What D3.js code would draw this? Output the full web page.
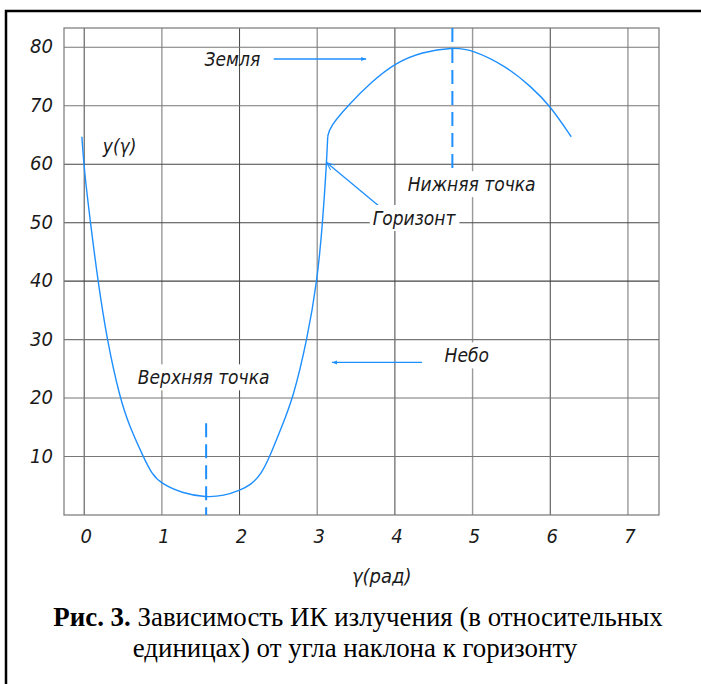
<!DOCTYPE html>
<html>
<head>
<meta charset="utf-8">
<script src="https://cdn.jsdelivr.net/npm/d3@7"></script>
<style>
  body { margin: 0; background: #fff; }
  .gost { font-family: "DejaVu Sans Condensed", "Liberation Sans Narrow", "DejaVu Sans", sans-serif; font-style: italic; fill: #1a1a1a; }
  .caption { font-family: "Liberation Serif", "Times New Roman", serif; fill: #000; }
</style>
</head>
<body>
<div class="chart"></div>
<script>
// x ticks (gamma, rad) and y ticks (relative units)
var xTicks = [0, 1, 2, 3, 4, 5, 6, 7];
var yTicks = [10, 20, 30, 40, 50, 60, 70, 80];

// sky part of the curve, gamma from 0 to pi
var skyGamma = [-0.03, 0, 0.08, 0.177, 0.293, 0.459, 0.588, 0.76, 0.87, 1.0, 1.27, 1.57, 1.8, 2.0, 2.15, 2.28, 2.39, 2.54, 2.69, 2.87, 3.0, 3.07, 3.12, 3.135];
var skyValue = [64.7, 59, 50, 40, 30, 20, 15, 10, 7, 5.3, 3.7, 3.0, 3.3, 4.2, 5.2, 7.0, 10, 15, 20, 30, 40, 50, 60.2, 64.7];

// earth part of the curve, gamma from pi to 2pi
var earthGamma = [3.135, 3.16, 3.42, 3.7, 4.0, 4.35, 4.74, 5.0, 5.44, 5.75, 6.0, 6.27];
var earthValue = [64.7, 66.4, 70.4, 74.1, 77.3, 79.2, 80, 79.6, 76.7, 73.3, 70, 64.7];

// annotation texts
var labelTexts = ["y(γ)", "Земля", "Нижняя точка", "Горизонт", "Небо", "Верхняя точка"];
var axisTitle = "γ(рад)";
var captionBold = "Рис. 3.";
var captionLine1 = " Зависимость ИК излучения (в относительных";
var captionLine2 = "единицах) от угла наклона к горизонту";

var margin = { top: 28, right: 42, bottom: 169, left: 64 },
	width = 701 - margin.left - margin.right,
	height = 684 - margin.top - margin.bottom;

var svg = d3.select(".chart").append("svg")
	.attr("width", 701)
	.attr("height", 684);

// outer frame (only top and left edges are visible)
svg.append("rect")
	.attr("x", 6).attr("y", 11)
	.attr("width", 720).attr("height", 700)
	.attr("fill", "none")
	.attr("stroke", "#000")
	.attr("stroke-width", 2.5);

var g = svg.append("g")
	.attr("transform", "translate(" + margin.left + "," + margin.top + ")");

var xScale = d3.scaleLinear().domain([-0.26, 7.4]).range([0, width]);
var yScale = d3.scaleLinear().domain([0, 83.3]).range([height, 0]);

var blue = "#1e8fff";

// grid
g.selectAll(".vgrid")
	.data(xTicks)
	.enter().append("line")
	.attr("class", "vgrid")
	.attr("x1", function (d) { return xScale(d); })
	.attr("x2", function (d) { return xScale(d); })
	.attr("y1", 0).attr("y2", height)
	.attr("stroke", function (d) { return d % 2 ? "#999" : "#444"; })
	.attr("stroke-width", function (d) { return d % 2 ? 1.4 : 1; });

g.selectAll(".hgrid")
	.data(yTicks)
	.enter().append("line")
	.attr("class", "hgrid")
	.attr("x1", 0).attr("x2", width)
	.attr("y1", function (d) { return yScale(d); })
	.attr("y2", function (d) { return yScale(d); })
	.attr("stroke", function (d) { return (d >= 40 && d <= 60) ? "#444" : "#777"; })
	.attr("stroke-width", 1.1);

g.append("rect")
	.attr("width", width).attr("height", height)
	.attr("fill", "none")
	.attr("stroke", "#777")
	.attr("stroke-width", 1.2);

// tick labels
g.selectAll(".ylab")
	.data(yTicks)
	.enter().append("text")
	.attr("class", "gost")
	.attr("x", -11)
	.attr("y", function (d) { return yScale(d) + 6; })
	.attr("text-anchor", "end")
	.style("font-size", "20px")
	.text(function (d) { return d; });

g.selectAll(".xlab")
	.data(xTicks)
	.enter().append("text")
	.attr("class", "gost")
	.attr("x", function (d) { return xScale(d) + 2; })
	.attr("y", height + 28)
	.attr("text-anchor", "middle")
	.style("font-size", "20px")
	.text(function (d) { return d; });

g.append("text")
	.attr("class", "gost")
	.attr("x", xScale(3.83))
	.attr("y", height + 68)
	.attr("text-anchor", "middle")
	.style("font-size", "20px")
	.text(axisTitle);

// arrow markers
var defs = svg.append("defs");
defs.append("marker")
	.attr("id", "arrowFill")
	.attr("viewBox", "0 -5 10 10")
	.attr("refX", 10).attr("refY", 0)
	.attr("markerWidth", 9).attr("markerHeight", 5)
	.attr("markerUnits", "userSpaceOnUse")
	.attr("orient", "auto-start-reverse")
	.append("path")
	.attr("d", "M0,-4L10,0L0,4Z")
	.attr("fill", blue);
defs.append("marker")
	.attr("id", "arrowOpen")
	.attr("viewBox", "0 -5 10 10")
	.attr("refX", 10).attr("refY", 0)
	.attr("markerWidth", 10).attr("markerHeight", 8)
	.attr("markerUnits", "userSpaceOnUse")
	.attr("orient", "auto")
	.append("path")
	.attr("d", "M0,-4L10,0L0,4")
	.attr("fill", "none")
	.attr("stroke", blue)
	.attr("stroke-width", 1.2);

// dashed markers of upper / lower point
var dashes = [[1.57, 15.7, 0], [4.74, 83.3, 59]];
g.selectAll(".dash")
	.data(dashes)
	.enter().append("line")
	.attr("x1", function (d) { return xScale(d[0]); })
	.attr("x2", function (d) { return xScale(d[0]); })
	.attr("y1", function (d) { return yScale(d[1]); })
	.attr("y2", function (d) { return yScale(d[2]); })
	.attr("stroke", blue)
	.attr("stroke-width", 2)
	.attr("stroke-dasharray", "14,7");

// curve
var line = d3.line()
	.x(function (d) { return xScale(d[0]); })
	.y(function (d) { return yScale(d[1]); })
	.curve(d3.curveBasis);

var sky = d3.zip(skyGamma, skyValue);
var earth = d3.zip(earthGamma, earthValue);

[sky, earth].forEach(function (series) {
	g.append("path")
		.datum(series)
		.attr("d", line)
		.attr("fill", "none")
		.attr("stroke", blue)
		.attr("stroke-width", 1.4);
});

// annotation arrows: [from gamma, from value, to gamma, to value, marker]
var arrows = [
	[2.44, 78.0, 3.63, 78.0, "arrowFill"],
	[4.15, 48.9, 3.12, 60.3, "arrowOpen"],
	[4.35, 26.1, 3.19, 26.1, "arrowFill"]
];
g.selectAll(".arrow")
	.data(arrows)
	.enter().append("line")
	.attr("x1", function (d) { return xScale(d[0]); })
	.attr("y1", function (d) { return yScale(d[1]); })
	.attr("x2", function (d) { return xScale(d[2]); })
	.attr("y2", function (d) { return yScale(d[3]); })
	.attr("stroke", blue)
	.attr("stroke-width", 1.3)
	.attr("marker-end", function (d) { return "url(#" + d[4] + ")"; });

// annotation texts: [gamma, value, white background]
var labelPos = [
	[0.24, 61.9, false],
	[1.55, 76.8, false],
	[4.165, 55.4, true],
	[3.715, 49.6, true],
	[4.64, 26.1, true],
	[0.69, 22.35, true]
];
labelTexts.forEach(function (t, i) {
	var p = labelPos[i];
	var bg = g.append("rect").attr("fill", "#fff");
	var txt = g.append("text")
		.attr("class", "gost")
		.attr("x", xScale(p[0]))
		.attr("y", yScale(p[1]))
		.style("font-size", "19px")
		.text(t);
	if (p[2]) {
		var b = txt.node().getBBox();
		bg.attr("x", b.x - 3).attr("y", b.y - 2)
			.attr("width", b.width + 6).attr("height", b.height + 4);
	} else {
		bg.remove();
	}
});

// caption
var cap = svg.append("text")
	.attr("class", "caption")
	.attr("x", 358)
	.attr("y", 626)
	.attr("text-anchor", "middle")
	.style("font-size", "26.9px");
cap.append("tspan").attr("font-weight", "bold").text(captionBold);
cap.append("tspan").text(captionLine1);

svg.append("text")
	.attr("class", "caption")
	.attr("x", 355)
	.attr("y", 657)
	.attr("text-anchor", "middle")
	.style("font-size", "26.9px")
	.text(captionLine2);
</script>
</body>
</html>
